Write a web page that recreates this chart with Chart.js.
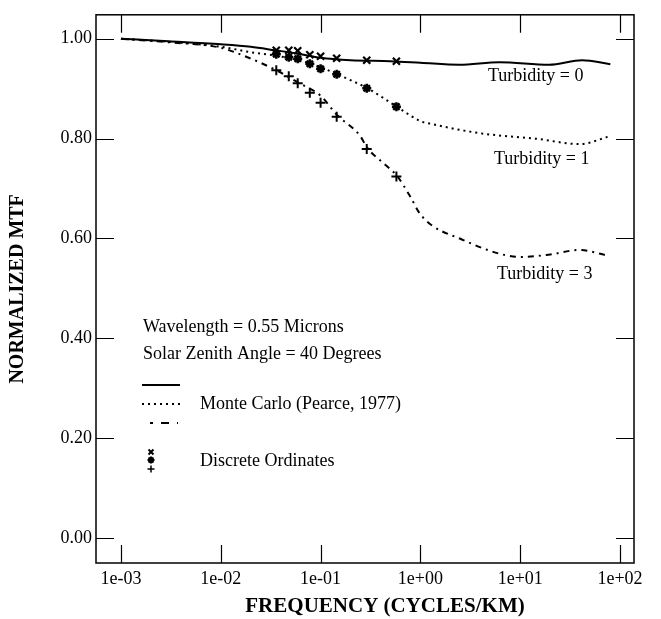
<!DOCTYPE html>
<html><head><meta charset="utf-8">
<script src="https://cdn.jsdelivr.net/npm/chart.js@4/dist/chart.umd.min.js"></script>
<style>html,body{margin:0;padding:0;background:#fff;}</style>
</head><body>
<canvas id="c" width="661" height="619" style="width:661px;height:619px;display:block"></canvas>
<script>
// Monte Carlo (Pearce, 1977) curves
const mcFreqT0 = [0.001, 0.003, 0.01, 0.02, 0.035, 0.06, 0.1, 0.2, 0.5, 1.0, 2.45, 6.2, 19.5, 41.7, 80];
const mcT0     = [1.000, 0.995, 0.989, 0.984, 0.977, 0.970, 0.962, 0.957, 0.955, 0.952, 0.948, 0.953, 0.948, 0.957, 0.949];
const mcFreqT1 = [0.001, 0.003, 0.01, 0.02, 0.036, 0.06, 0.1, 0.15, 0.3, 0.6, 1.0, 1.25, 3.9, 15.5, 39, 80];
const mcT1     = [1.000, 0.994, 0.984, 0.973, 0.966, 0.957, 0.943, 0.928, 0.900, 0.862, 0.835, 0.830, 0.811, 0.799, 0.789, 0.805];
const mcFreqT3 = [0.001, 0.003, 0.01, 0.017, 0.036, 0.06, 0.1, 0.145, 0.25, 0.29, 0.46, 0.58, 0.78, 1.02, 2.6, 10.5, 20, 39, 78];
const mcT3     = [1.000, 0.993, 0.982, 0.966, 0.937, 0.912, 0.886, 0.848, 0.805, 0.783, 0.745, 0.726, 0.686, 0.646, 0.598, 0.563, 0.568, 0.577, 0.565];
// Discrete ordinates points
const doFreq = [0.036, 0.048, 0.059, 0.078, 0.1, 0.145, 0.29, 0.575];
const doT0   = [0.977, 0.977, 0.976, 0.968, 0.965, 0.961, 0.957, 0.955];
const doT1   = [0.969, 0.963, 0.960, 0.950, 0.940, 0.929, 0.901, 0.864];
const doT3   = [0.937, 0.925, 0.911, 0.892, 0.872, 0.844, 0.779, 0.724];
// Axis ticks
const xTickValues = [1e-3, 1e-2, 1e-1, 1, 10, 100];
const xTickLabels = ['1e-03', '1e-02', '1e-01', '1e+00', '1e+01', '1e+02'];
const yTickValues = [0, 0.2, 0.4, 0.6, 0.8, 1.0];
const yTickLabels = ['0.00', '0.20', '0.40', '0.60', '0.80', '1.00'];
// Annotation texts
const xTitle = 'FREQUENCY (CYCLES/KM)';
const yTitle = 'NORMALIZED MTF';
const curveLabels = ['Turbidity = 0', 'Turbidity = 1', 'Turbidity = 3'];
const infoLines = ['Wavelength = 0.55 Microns', 'Solar Zenith Angle = 40 Degrees'];
const legendTexts = ['Monte Carlo (Pearce, 1977)', 'Discrete Ordinates'];

const pts = (xs, ys) => xs.map((x, i) => ({x: x, y: ys[i]}));
const FONT = '"Liberation Serif", "Times New Roman", serif';

const lineDs = (xs, ys, dash) => ({
  data: pts(xs, ys), showLine: true, borderColor: '#000', borderWidth: 2,
  borderDash: dash, pointRadius: 0, tension: 0.35, cubicInterpolationMode: 'monotone', fill: false
});
const markDs = (ys, style, r, bw) => ({
  data: pts(doFreq, ys), showLine: false, borderColor: '#000', backgroundColor: '#000',
  pointStyle: style, pointRadius: r, borderWidth: bw
});

const framePlugin = {
  id: 'frame',
  afterDraw(chart) {
    const ctx = chart.ctx, a = chart.chartArea;
    const xs = chart.scales.x, ys = chart.scales.y;
    ctx.save();
    ctx.strokeStyle = '#000';
    ctx.lineWidth = 1.5;
    ctx.strokeRect(a.left, a.top, a.right - a.left, a.bottom - a.top);
    ctx.lineWidth = 1.2;
    const TL = 18;
    ctx.beginPath();
    xTickValues.forEach(v => {
      const px = Math.round(xs.getPixelForValue(v)) + 0.5;
      ctx.moveTo(px, a.bottom); ctx.lineTo(px, a.bottom - TL);
      ctx.moveTo(px, a.top); ctx.lineTo(px, a.top + TL);
    });
    yTickValues.forEach(v => {
      const py = Math.round(ys.getPixelForValue(v)) + 0.5;
      ctx.moveTo(a.left, py); ctx.lineTo(a.left + TL, py);
      ctx.moveTo(a.right, py); ctx.lineTo(a.right - TL, py);
    });
    ctx.stroke();

    // x-axis title
    ctx.fillStyle = '#000';
    ctx.textBaseline = 'middle';
    ctx.textAlign = 'center';
    ctx.font = 'bold 21px ' + FONT;
    ctx.fillText(xTitle, 385, 607);

    // text annotations
    ctx.font = '18px ' + FONT;
    ctx.textAlign = 'left';
    ctx.fillText(curveLabels[0], 488, 76);
    ctx.fillText(curveLabels[1], 494, 159);
    ctx.fillText(curveLabels[2], 497, 274);
    ctx.fillText(infoLines[0], 143, 327);
    ctx.fillText(infoLines[1], 143, 354);
    ctx.fillText(legendTexts[0], 200, 404);
    ctx.fillText(legendTexts[1], 200, 461);

    // legend line samples
    const sample = (y, x1, x2, dash, w) => {
      ctx.beginPath(); ctx.setLineDash(dash); ctx.lineWidth = w;
      ctx.moveTo(x1, y); ctx.lineTo(x2, y); ctx.stroke();
    };
    sample(385, 142, 180, [], 2);
    sample(404, 142, 182, [2, 4], 2);
    sample(423, 150, 178, [3, 8, 8, 8], 2);
    ctx.setLineDash([]);
    // legend marker samples
    const Hp = Chart.helpers;
    ctx.lineWidth = 2;
    Hp.drawPoint(ctx, {pointStyle: 'crossRot', radius: 3.5, rotation: 0, borderWidth: 2}, 151, 452);
    Hp.drawPoint(ctx, {pointStyle: 'star', radius: 3.5, rotation: 0, borderWidth: 2}, 151, 460);
    ctx.lineWidth = 1.5;
    Hp.drawPoint(ctx, {pointStyle: 'cross', radius: 3.5, rotation: 0, borderWidth: 1.5}, 151, 469);
    ctx.restore();
  }
};

new Chart(document.getElementById('c'), {
  type: 'scatter',
  data: {
    datasets: [
      lineDs(mcFreqT0, mcT0, []),
      lineDs(mcFreqT1, mcT1, [2, 4]),
      lineDs(mcFreqT3, mcT3, [6, 5, 2, 5]),
      markDs(doT0, 'crossRot', 5, 2.2),
      markDs(doT1, 'star', 4.5, 2.5),
      markDs(doT3, 'cross', 5, 2)
    ]
  },
  options: {
    responsive: false, animation: false, devicePixelRatio: 1,
    layout: {padding: {top: 11, right: 27, left: 0, bottom: 0}},
    plugins: {legend: {display: false}, tooltip: {enabled: false}},
    scales: {
      x: {
        type: 'logarithmic', min: Math.pow(10, -3.25), max: Math.pow(10, 2.14),
        afterBuildTicks: s => { s.ticks = xTickValues.map(v => ({value: v})); },
        afterFit: s => { s.height = 56; },
        grid: {display: false, drawTicks: false}, border: {display: false},
        ticks: {
          autoSkip: false, maxRotation: 0, color: '#000', padding: 5,
          font: {family: FONT, size: 18},
          callback: (v) => { const i = xTickValues.findIndex(t => Math.abs(Math.log10(t) - Math.log10(v)) < 1e-6); return i >= 0 ? xTickLabels[i] : ''; }
        },
        title: {display: false}
      },
      y: {
        type: 'linear', min: -0.05, max: 1.048,
        afterBuildTicks: s => { s.ticks = yTickValues.map(v => ({value: v})); },
        afterFit: s => { s.width = 96; },
        grid: {display: false, drawTicks: false}, border: {display: false},
        ticks: {
          color: '#000', padding: 4, font: {family: FONT, size: 18},
          callback: (v) => { const i = yTickValues.findIndex(t => Math.abs(t - v) < 1e-6); return i >= 0 ? yTickLabels[i] : ''; }
        },
        title: {display: true, text: yTitle, color: '#000',
          font: {family: FONT, size: 20, weight: 'bold'}, padding: {top: 6, bottom: 0}}
      }
    }
  },
  plugins: [framePlugin]
});
</script>
</body></html>
